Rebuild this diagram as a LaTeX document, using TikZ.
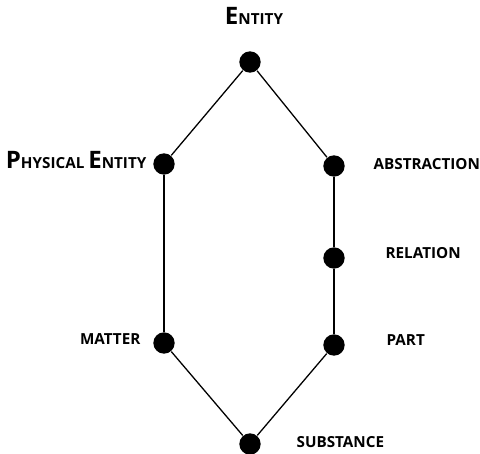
\documentclass[tikz,border=0pt]{standalone}
\usepackage{fontspec}
\setmainfont{Open Sans}
\newcommand{\bigcapletter}[1]{{\fontsize{20.5}{20.5}\selectfont #1}}
\tikzset{
  dot/.style={circle,fill=black,inner sep=0pt,minimum size=0.64cm},
  lbl/.style={font=\fontsize{13}{13}\selectfont\bfseries,inner sep=0pt}
}
\begin{document}
\begin{tikzpicture}[x=0.03cm,y=-0.03cm,line width=1.1pt]
\useasboundingbox (0,0) rectangle (480,454);

\node[dot] (entity) at (250,62) {};
\node[dot] (physical) at (164,164) {};
\node[dot] (abstraction) at (334,166) {};
\node[dot] (relation) at (334,258) {};
\node[dot] (matter) at (164,343) {};
\node[dot] (part) at (334,345) {};
\node[dot] (substance) at (250,444) {};

\draw (entity) -- (physical);
\draw (entity) -- (abstraction);
\draw (physical) -- (matter);
\draw (abstraction) -- (relation);
\draw (relation) -- (part);
\draw (matter) -- (substance);
\draw (part) -- (substance);

\node[lbl,anchor=base] (entitylbl) at (254,25) {\bigcapletter{E}NTITY};
\node[lbl,anchor=base east] (physicallbl) at (147,168) {\bigcapletter{P}HYSICAL \bigcapletter{E}NTITY};
\node[lbl,anchor=base west] (abstractionlbl) at (373,169) {ABSTRACTION};
\node[lbl,anchor=base west] (relationlbl) at (385,258) {RELATION};
\node[lbl,anchor=base east] (matterlbl) at (141,344) {MATTER};
\node[lbl,anchor=base west] (partlbl) at (386,345) {PART};
\node[lbl,anchor=base west] (substancelbl) at (296,447) {SUBSTANCE};
\end{tikzpicture}
\end{document}
